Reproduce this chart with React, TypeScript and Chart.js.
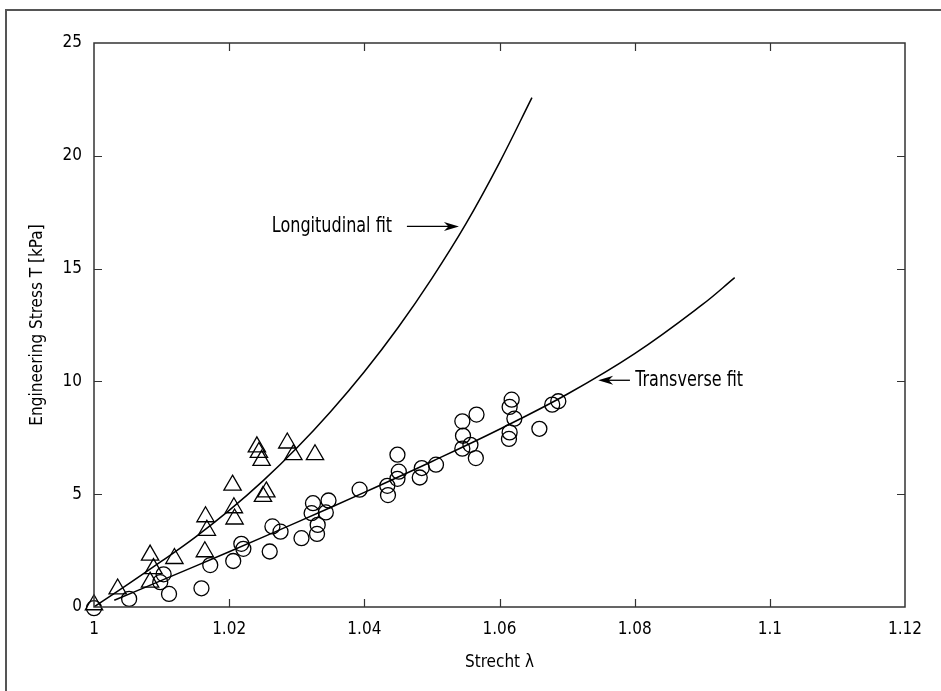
import React, { useEffect, useRef } from 'react';
import { Chart, registerables } from 'chart.js';

Chart.register(...registerables);

const FONT = "'DejaVu Sans Condensed', 'Liberation Sans Narrow', sans-serif";

// Axis ticks
const xTickValues = [1, 1.02, 1.04, 1.06, 1.08, 1.1, 1.12];
const xTickLabels = ['1', '1.02', '1.04', '1.06', '1.08', '1.1', '1.12'];
const yTickValues = [0, 5, 10, 15, 20, 25];
const yTickLabels = ['0', '5', '10', '15', '20', '25'];

// Longitudinal measurements (triangles)
const longStretch = [1.0, 1.0035, 1.0083, 1.0088, 1.0083, 1.0119, 1.0165, 1.0167, 1.0164, 1.0205, 1.0207, 1.0208, 1.0241, 1.0244, 1.0248, 1.0255, 1.025, 1.0286, 1.0295, 1.0327];
const longStress = [0.1, 0.8, 2.3, 1.7, 1.1, 2.15, 4.0, 3.4, 2.45, 5.4, 4.4, 3.9, 7.1, 6.85, 6.5, 5.1, 4.9, 7.27, 6.75, 6.75];

// Transverse measurements (circles)
const transStretch = [1.0, 1.0052, 1.0111, 1.0159, 1.0098, 1.0103, 1.0172, 1.0206, 1.0218, 1.0221, 1.026, 1.0264, 1.0276, 1.0307, 1.0322, 1.0324, 1.0331, 1.033, 1.0343, 1.0347, 1.0393, 1.0434, 1.0435, 1.0449, 1.0451, 1.0449, 1.0482, 1.0485, 1.0506, 1.0545, 1.0546, 1.0545, 1.0557, 1.0566, 1.0565, 1.0618, 1.0615, 1.0622, 1.0615, 1.0614, 1.0659, 1.0678, 1.0687];
const transStress = [-0.05, 0.36, 0.58, 0.83, 1.1, 1.45, 1.86, 2.04, 2.8, 2.58, 2.46, 3.57, 3.34, 3.05, 4.16, 4.6, 3.64, 3.24, 4.19, 4.72, 5.2, 5.37, 4.96, 6.75, 6.0, 5.68, 5.74, 6.16, 6.31, 8.23, 7.59, 7.02, 7.19, 8.53, 6.6, 9.19, 8.87, 8.35, 7.74, 7.45, 7.9, 8.97, 9.12];

// Fit curves
const longFitX = [1.0, 1.005, 1.01, 1.015, 1.02, 1.025, 1.03, 1.035, 1.04, 1.045, 1.05, 1.055, 1.06, 1.0648];
const longFitY = [0, 1.0, 2.03, 3.1, 4.28, 5.59, 7.05, 8.66, 10.43, 12.39, 14.57, 16.97, 19.7, 22.58];
const transFitX = [1.003, 1.01, 1.02, 1.03, 1.04, 1.05, 1.06, 1.07, 1.08, 1.09, 1.0948];
const transFitY = [0.3, 1.18, 2.45, 3.75, 5.08, 6.45, 7.88, 9.43, 11.23, 13.4, 14.6];

// Annotations (data coordinates)
const longLabel = { text: 'Longitudinal fit', x: 1.0441, y: 16.87, arrowFrom: 1.0463, arrowTo: 1.054 };
const transLabel = { text: 'Transverse fit', x: 1.0801, y: 10.05, arrowFrom: 1.0793, arrowTo: 1.0746 };

const pts = (xs: number[], ys: number[]) => xs.map((x, i) => ({ x, y: ys[i] }));

function drawArrow(ctx: CanvasRenderingContext2D, x1: number, x2: number, y: number) {
  const dir = x2 > x1 ? 1 : -1;
  const headLen = 15;
  ctx.beginPath();
  ctx.moveTo(x1, y);
  ctx.lineTo(x2 - dir * headLen * 0.6, y);
  ctx.stroke();
  ctx.beginPath();
  ctx.moveTo(x2, y);
  ctx.lineTo(x2 - dir * headLen, y - 4.5);
  ctx.lineTo(x2 - dir * headLen * 0.7, y);
  ctx.lineTo(x2 - dir * headLen, y + 4.5);
  ctx.closePath();
  ctx.fill();
}

function drawSqueezedText(ctx: CanvasRenderingContext2D, text: string, x: number, y: number, align: CanvasTextAlign) {
  ctx.save();
  ctx.translate(x, y);
  ctx.scale(0.81, 1);
  ctx.textAlign = align;
  ctx.fillText(text, 0, 0);
  ctx.restore();
}

const framePlugin = {
  id: 'frameAndTicks',
  afterDatasetsDraw(chart: any) {
    const { ctx, chartArea: a, scales } = chart;
    const xs = scales.x;
    const ys = scales.y;
    ctx.save();
    ctx.strokeStyle = '#333';
    ctx.lineWidth = 1.5;
    ctx.strokeRect(a.left, a.top, a.right - a.left, a.bottom - a.top);
    ctx.lineWidth = 1.2;
    ctx.beginPath();
    xs.ticks.forEach((t: any) => {
      const px = Math.round(xs.getPixelForValue(t.value)) + 0.5;
      if (px <= a.left + 2 || px >= a.right - 2) return;
      ctx.moveTo(px, a.bottom);
      ctx.lineTo(px, a.bottom - 8);
      ctx.moveTo(px, a.top);
      ctx.lineTo(px, a.top + 8);
    });
    ys.ticks.forEach((t: any) => {
      const py = Math.round(ys.getPixelForValue(t.value)) + 0.5;
      if (py <= a.top + 2 || py >= a.bottom - 2) return;
      ctx.moveTo(a.left, py);
      ctx.lineTo(a.left + 8, py);
      ctx.moveTo(a.right, py);
      ctx.lineTo(a.right - 8, py);
    });
    ctx.stroke();

    // annotations
    ctx.fillStyle = '#000';
    ctx.strokeStyle = '#000';
    ctx.lineWidth = 1.3;
    ctx.font = `22px ${FONT}`;
    ctx.textBaseline = 'middle';
    drawSqueezedText(ctx, longLabel.text, xs.getPixelForValue(longLabel.x), ys.getPixelForValue(longLabel.y), 'right');
    drawArrow(ctx, xs.getPixelForValue(longLabel.arrowFrom), xs.getPixelForValue(longLabel.arrowTo), ys.getPixelForValue(longLabel.y));
    drawSqueezedText(ctx, transLabel.text, xs.getPixelForValue(transLabel.x), ys.getPixelForValue(transLabel.y), 'left');
    drawArrow(ctx, xs.getPixelForValue(transLabel.arrowFrom), xs.getPixelForValue(transLabel.arrowTo), ys.getPixelForValue(transLabel.y));
    ctx.restore();
  },
};

export default function App() {
  const canvasRef = useRef<HTMLCanvasElement | null>(null);

  useEffect(() => {
    if (!canvasRef.current) return;
    const chart = new Chart(canvasRef.current, {
      type: 'scatter',
      data: {
        datasets: [
          {
            label: 'Longitudinal fit',
            data: pts(longFitX, longFitY),
            showLine: true,
            borderColor: '#000',
            borderWidth: 1.5,
            pointRadius: 0,
            tension: 0.4,
            fill: false,
          } as any,
          {
            label: 'Transverse fit',
            data: pts(transFitX, transFitY),
            showLine: true,
            borderColor: '#000',
            borderWidth: 1.5,
            pointRadius: 0,
            tension: 0.4,
            fill: false,
          } as any,
          {
            label: 'Longitudinal',
            data: pts(longStretch, longStress),
            pointStyle: 'triangle',
            pointRadius: 10,
            pointBorderWidth: 1.3,
            pointBorderColor: '#000',
            pointBackgroundColor: 'rgba(0,0,0,0)',
            showLine: false,
            clip: false,
          } as any,
          {
            label: 'Transverse',
            data: pts(transStretch, transStress),
            pointStyle: 'circle',
            pointRadius: 7.5,
            pointBorderWidth: 1.3,
            pointBorderColor: '#000',
            pointBackgroundColor: 'rgba(0,0,0,0)',
            showLine: false,
            clip: false,
          } as any,
        ],
      },
      options: {
        animation: false,
        responsive: false,
        layout: { padding: { left: 0, right: 36, top: 43, bottom: 0 } },
        plugins: {
          legend: { display: false },
          tooltip: { enabled: false },
        },
        scales: {
          x: {
            type: 'linear',
            min: 1,
            max: 1.12,
            afterBuildTicks: (s: any) => {
              s.ticks = xTickValues.map((v) => ({ value: v }));
            },
            afterFit: (s: any) => {
              s.height = 84;
            },
            grid: { display: false, drawTicks: false },
            border: { display: false },
            ticks: {
              color: '#000',
              font: { family: FONT, size: 17 },
              padding: 12,
              maxRotation: 0,
              autoSkip: false,
              callback: (_v: any, i: number) => xTickLabels[i],
            },
            title: {
              display: true,
              text: 'Strecht λ',
              color: '#000',
              font: { family: FONT, size: 17 },
              padding: { top: 0, bottom: 18 },
            },
          },
          y: {
            type: 'linear',
            min: 0,
            max: 25,
            afterBuildTicks: (s: any) => {
              s.ticks = yTickValues.map((v) => ({ value: v }));
            },
            afterFit: (s: any) => {
              s.width = 94;
            },
            grid: { display: false, drawTicks: false },
            border: { display: false },
            ticks: {
              color: '#000',
              font: { family: FONT, size: 17 },
              padding: 12,
              autoSkip: false,
              callback: (_v: any, i: number) => yTickLabels[i],
            },
            title: {
              display: true,
              text: 'Engineering Stress T [kPa]',
              color: '#000',
              font: { family: FONT, size: 17 },
              padding: { top: 27, bottom: 0 },
            },
          },
        },
      } as any,
      plugins: [framePlugin],
    });
    return () => chart.destroy();
  }, []);

  return (
    <div style={{ position: 'absolute', left: 0, top: 0, width: 941, height: 691, background: '#fff', overflow: 'hidden' }}>
      <div
        style={{
          position: 'absolute',
          left: 5,
          top: 9,
          width: 960,
          height: 720,
          borderLeft: '2px solid #555',
          borderTop: '2px solid #555',
        }}
      />
      <canvas ref={canvasRef} width={941} height={691} style={{ position: 'absolute', left: 0, top: 0, width: 941, height: 691 }} />
    </div>
  );
}
